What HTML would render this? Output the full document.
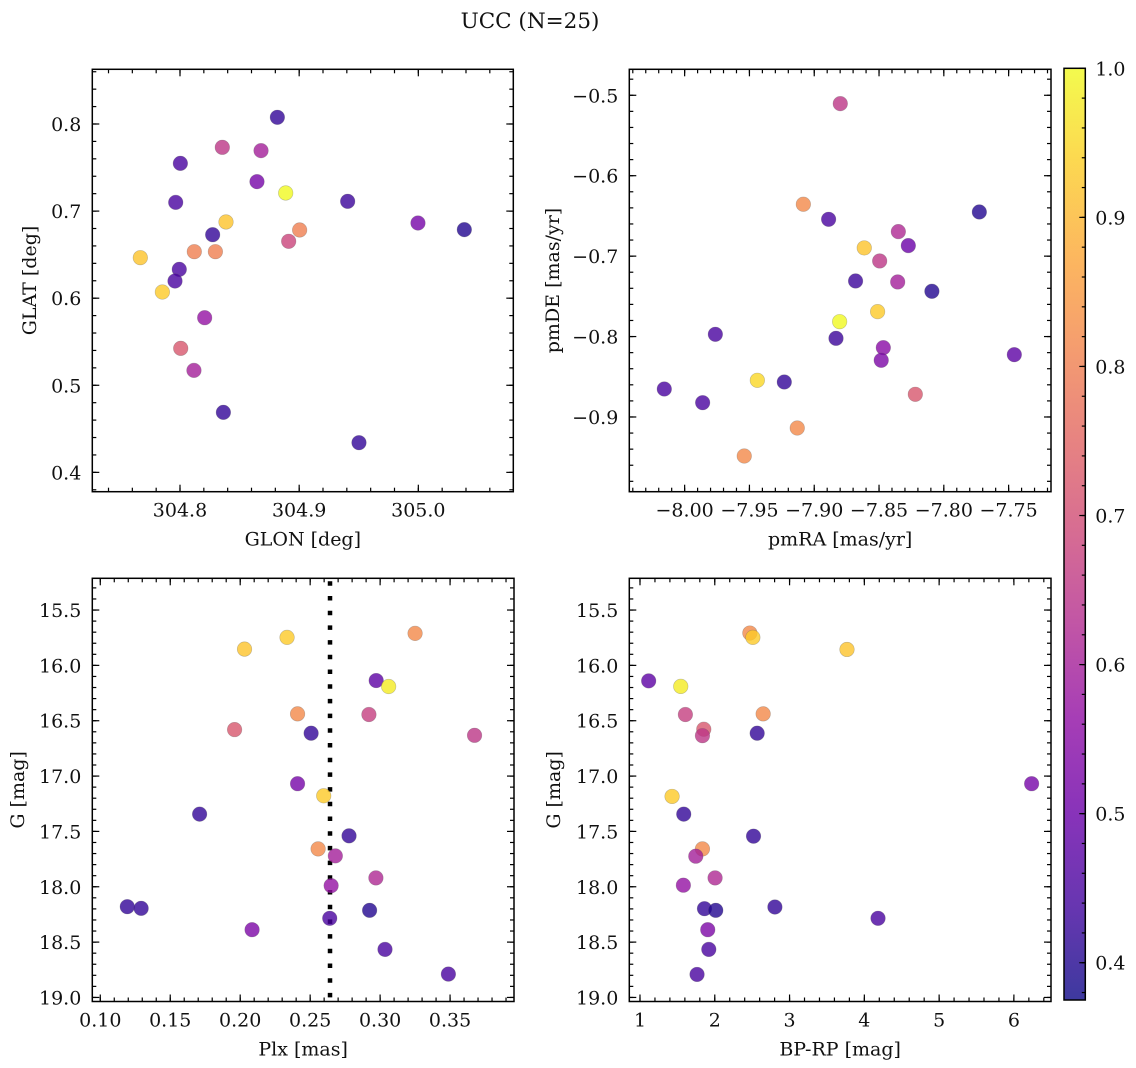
<!DOCTYPE html>
<html><head><meta charset="utf-8"><title>UCC (N=25)</title>
<style>
html,body{margin:0;padding:0;background:#fff;}
svg{display:block;font-family:"DejaVu Serif","Liberation Serif",serif;}
</style></head>
<body>
<svg id="fig" width="1136" height="1068" viewBox="0 0 1136 1068" xmlns="http://www.w3.org/2000/svg">
<defs>
<linearGradient id="cbgrad" x1="0" y1="1" x2="0" y2="0">
<stop offset="0" stop-color="#0d0887"/><stop offset="0.1" stop-color="#41049d"/><stop offset="0.2" stop-color="#6a00a8"/><stop offset="0.3" stop-color="#8f0da4"/><stop offset="0.4" stop-color="#b12a90"/><stop offset="0.5" stop-color="#cc4778"/><stop offset="0.6" stop-color="#e16462"/><stop offset="0.7" stop-color="#f2844b"/><stop offset="0.8" stop-color="#fca636"/><stop offset="0.9" stop-color="#fcce25"/><stop offset="1" stop-color="#f0f921"/>
</linearGradient>
</defs>
<text x="530" y="28" font-size="21.5" text-anchor="middle" fill="#111">UCC (N=25)</text>
</svg>
<script>
// ---- data ----
const glon = [304.8817,304.8355,304.868,304.8003,304.8646,304.8887,304.7964,304.9407,304.8386,304.9997,304.9004,305.0386,304.8274,304.8912,304.812,304.8297,304.7667,304.7994,304.7958,304.7852,304.8207,304.8006,304.8117,304.8364,304.9502];
const glat = [0.8077,0.7732,0.7694,0.7548,0.7338,0.7208,0.7100,0.7112,0.6875,0.6863,0.6783,0.6787,0.6729,0.6653,0.6534,0.6534,0.6465,0.6331,0.6197,0.6071,0.5776,0.5424,0.5171,0.4689,0.4341];
const probTL = [0.42,0.65,0.60,0.45,0.52,1.0,0.45,0.43,0.92,0.52,0.80,0.40,0.42,0.68,0.80,0.80,0.92,0.45,0.45,0.93,0.57,0.72,0.60,0.42,0.42];

const pmra = [-7.8799,-7.9084,-7.8889,-7.7726,-7.8351,-7.8274,-7.8614,-7.8495,-7.8681,-7.8356,-7.8092,-7.8511,-7.8804,-7.9763,-7.8832,-7.8467,-7.8483,-7.7456,-7.9439,-7.9231,-8.0157,-7.9861,-7.8220,-7.9131,-7.9540];
const pmde = [-0.5104,-0.6355,-0.6542,-0.6451,-0.6695,-0.6869,-0.6898,-0.7060,-0.7309,-0.7321,-0.7437,-0.7690,-0.7815,-0.7972,-0.8022,-0.8138,-0.8295,-0.8225,-0.8544,-0.8565,-0.8652,-0.8822,-0.8718,-0.9137,-0.9485];
const probTR = [0.65,0.82,0.45,0.40,0.62,0.50,0.92,0.65,0.43,0.60,0.40,0.93,1.0,0.45,0.43,0.55,0.53,0.48,0.95,0.42,0.45,0.45,0.72,0.82,0.82];

const plx = [0.2031,0.2335,0.325,0.2972,0.3061,0.2410,0.292,0.196,0.2507,0.3675,0.241,0.2597,0.171,0.2778,0.2557,0.268,0.297,0.265,0.1193,0.1292,0.2925,0.264,0.2085,0.3035,0.3488];
const gmagBL = [15.853,15.747,15.711,16.137,16.191,16.438,16.444,16.58,16.613,16.632,17.069,17.178,17.344,17.540,17.658,17.721,17.92,17.99,18.18,18.195,18.213,18.285,18.388,18.566,18.789];
const probBL = [0.92,0.93,0.82,0.48,0.98,0.82,0.67,0.72,0.42,0.65,0.52,0.93,0.42,0.42,0.82,0.60,0.62,0.57,0.42,0.42,0.40,0.45,0.53,0.45,0.45];
const plxMedian = 0.2642;

const bprp = [1.116,1.545,1.607,1.853,1.835,2.469,2.509,3.768,2.647,2.567,6.237,1.429,1.585,2.518,1.835,1.746,2.004,1.580,1.862,2.013,2.804,4.183,1.906,1.920,1.763];
const gmagBR = [16.14,16.19,16.444,16.577,16.635,15.708,15.747,15.856,16.438,16.613,17.069,17.184,17.344,17.543,17.658,17.724,17.92,17.986,18.198,18.213,18.183,18.285,18.388,18.566,18.792];
const probBR = [0.48,0.98,0.67,0.72,0.65,0.82,0.93,0.92,0.82,0.42,0.52,0.93,0.42,0.42,0.82,0.60,0.62,0.57,0.42,0.40,0.42,0.45,0.53,0.45,0.45];

const ticksTLx = [304.8,304.9,305.0];
const ticksTLy = [0.4,0.5,0.6,0.7,0.8];
const ticksTRx = [-8.00,-7.95,-7.90,-7.85,-7.80,-7.75];
const ticksTRy = [-0.9,-0.8,-0.7,-0.6,-0.5];
const ticksBLx = [0.10,0.15,0.20,0.25,0.30,0.35];
const ticksGy = [15.5,16.0,16.5,17.0,17.5,18.0,18.5,19.0];
const ticksBRx = [1,2,3,4,5,6];
const ticksCb = [0.4,0.5,0.6,0.7,0.8,0.9,1.0];

// ---- rendering ----
const NS = "http://www.w3.org/2000/svg";
const svg = document.getElementById('fig');
const FS = 19;
function mk(tag, attrs, parent){
  const e = document.createElementNS(NS, tag);
  for (const k in attrs) e.setAttribute(k, attrs[k]);
  (parent||svg).appendChild(e);
  return e;
}
const stops = ["#0d0887","#41049d","#6a00a8","#8f0da4","#b12a90","#cc4778","#e16462","#f2844b","#fca636","#fcce25","#f0f921"].map(h=>[parseInt(h.slice(1,3),16),parseInt(h.slice(3,5),16),parseInt(h.slice(5,7),16)]);
const cmin = 0.375, cmax = 1.0;
function plasma(v){
  let t = Math.max(0, Math.min(1, (v-cmin)/(cmax-cmin)))*10;
  const i = Math.min(9, Math.floor(t)), f = t - i;
  const a = stops[i], b = stops[i+1];
  return 'rgb(' + [0,1,2].map(k=>Math.round(a[k]+(b[k]-a[k])*f)).join(',') + ')';
}
function fmt(v, d){ return (v<0?'\u2212':'') + Math.abs(v).toFixed(d); }

function panel(o){
  const g = mk('g', {});
  
  
  const sx = v => o.L + (v - o.xd[0])/(o.xd[1]-o.xd[0])*(o.R-o.L);
  const sy = v => o.yrev ? o.T + (v - o.yd[0])/(o.yd[1]-o.yd[0])*(o.B-o.T)
                         : o.B - (v - o.yd[0])/(o.yd[1]-o.yd[0])*(o.B-o.T);
  const tk = mk('g', {stroke:'#000','stroke-width':1.2}, g);
  
  
  const lo = Math.ceil(Math.min(o.xd[0],o.xd[1])/o.xminor - 1e-6), hi = Math.floor(Math.max(o.xd[0],o.xd[1])/o.xminor + 1e-6);
  for (let i=lo;i<=hi;i++){ const x = sx(i*o.xminor);
    mk('line',{x1:x,x2:x,y1:o.B,y2:o.B-4},tk); mk('line',{x1:x,x2:x,y1:o.T,y2:o.T+4},tk); }
  const ylo = Math.ceil(Math.min(o.yd[0],o.yd[1])/o.yminor - 1e-6), yhi = Math.floor(Math.max(o.yd[0],o.yd[1])/o.yminor + 1e-6);
  for (let i=ylo;i<=yhi;i++){ const y = sy(i*o.yminor);
    mk('line',{y1:y,y2:y,x1:o.L,x2:o.L+4},tk); mk('line',{y1:y,y2:y,x1:o.R,x2:o.R-4},tk); }
  o.xt.forEach(v=>{ const x = sx(v);
    mk('line',{x1:x,x2:x,y1:o.B,y2:o.B-7},tk); mk('line',{x1:x,x2:x,y1:o.T,y2:o.T+7},tk);
    const t = mk('text',{x:x,y:o.B+25,'font-size':FS,'text-anchor':'middle',fill:'#111'},g);
    
    
    t.textContent = fmt(v,o.xdec); });
  o.yt.forEach(v=>{ const y = sy(v);
    mk('line',{y1:y,y2:y,x1:o.L,x2:o.L+7},tk); mk('line',{y1:y,y2:y,x1:o.R,x2:o.R-7},tk);
    const t = mk('text',{x:o.L-11,y:y+7,'font-size':FS,'text-anchor':'end',fill:'#111'},g);
    
    
    t.textContent = fmt(v,o.ydec); });
  if (o.vline !== undefined){
    const x = sx(o.vline);
    const l = mk('line',{x1:x,x2:x,y1:o.T+3,y2:o.B,stroke:'#000','stroke-width':4.5,'stroke-dasharray':'4.5 10.2'},g);
    
    
  }
  const pts = mk('g',{},g);
  
  
  o.x.forEach((v,i)=>{
    const c = mk('circle',{cx:sx(v),cy:sy(o.y[i]),r:7.3,fill:plasma(o.c[i]),'fill-opacity':0.8,stroke:'#555','stroke-opacity':0.35,'stroke-width':0.6},pts);
    
    
  });
  const fr = mk('rect',{x:o.L,y:o.T,width:o.R-o.L,height:o.B-o.T,fill:'none',stroke:'#000','stroke-width':1.5},g);
  
  
  const xl = mk('text',{x:(o.L+o.R)/2,y:o.B+54,'font-size':FS,'text-anchor':'middle',fill:'#111'},g);
  
  
  xl.textContent = o.xlab;
  const cy = (o.T+o.B)/2;
  const yl = mk('text',{x:o.ylx,y:cy,'font-size':FS,'text-anchor':'middle',fill:'#111',transform:'rotate(-90 '+o.ylx+' '+cy+')'},g);
  
  
  yl.textContent = o.ylab;
}

panel({name:'glon-glat-panel',L:92.3,R:513.3,T:69.3,B:491.7,xd:[304.7264,305.0797],yd:[0.3778,0.8628],
  xt:ticksTLx,yt:ticksTLy,xdec:1,ydec:1,xminor:0.02,yminor:0.02,x:glon,y:glat,c:probTL,xlab:'GLON [deg]',ylab:'GLAT [deg]',ylx:36});
panel({name:'pm-panel',L:629.3,R:1051,T:69.3,B:491.7,xd:[-8.0427,-7.7173],yd:[-0.9929,-0.4677],
  xt:ticksTRx,yt:ticksTRy,xdec:2,ydec:1,xminor:0.01,yminor:0.02,x:pmra,y:pmde,c:probTR,xlab:'pmRA [mas/yr]',ylab:'pmDE [mas/yr]',ylx:559});
panel({name:'plx-g-panel',L:92.3,R:514,T:578.3,B:1001.5,xd:[0.0943,0.3957],yd:[15.2133,19.0366],yrev:true,
  xt:ticksBLx,yt:ticksGy,xdec:2,ydec:1,xminor:0.01,yminor:0.1,x:plx,y:gmagBL,c:probBL,xlab:'Plx [mas]',ylab:'G [mag]',ylx:24,vline:plxMedian});
panel({name:'cmd-panel',L:629.3,R:1051,T:578.3,B:1001.5,xd:[0.857,6.496],yd:[15.2133,19.0366],yrev:true,
  xt:ticksBRx,yt:ticksGy,xdec:0,ydec:1,xminor:0.2,yminor:0.1,x:bprp,y:gmagBR,c:probBR,xlab:'BP-RP [mag]',ylab:'G [mag]',ylx:560});

// colorbar
const cb = mk('g',{});


const cbL=1064, cbR=1085.3, cbT=68.3, cbB=1000;
const cbY = v => cbB - (v-cmin)/(cmax-cmin)*(cbB-cbT);
mk('rect',{x:cbL,y:cbT,width:cbR-cbL,height:cbB-cbT,fill:'url(#cbgrad)','fill-opacity':0.8},cb);
for (let i=19;i<=50;i++){ const y = cbY(i*0.02); mk('line',{x1:cbR,x2:cbR-3.5,y1:y,y2:y,stroke:'#000','stroke-width':1.2},cb); }
ticksCb.forEach(v=>{ const y = cbY(v);
  mk('line',{x1:cbR,x2:cbR-6,y1:y,y2:y,stroke:'#000','stroke-width':1.2},cb);
  const t = mk('text',{x:cbR+10,y:y+7,'font-size':FS,fill:'#111'},cb);
  
  
  t.textContent = v.toFixed(1); });
mk('rect',{x:cbL,y:cbT,width:cbR-cbL,height:cbB-cbT,fill:'none',stroke:'#000','stroke-width':1.5},cb);
</script>
</body></html>
